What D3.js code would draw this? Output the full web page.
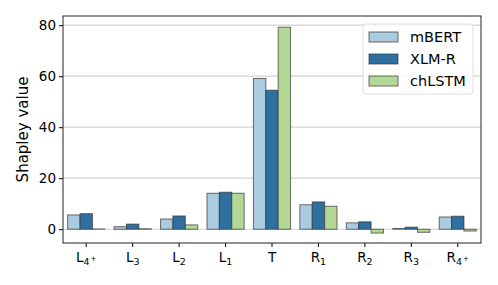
<!DOCTYPE html>
<html>
<head>
<meta charset="utf-8">
<script src="https://cdn.jsdelivr.net/npm/d3@7"></script>
<style>
  body { margin: 0; background: #fff; }
  text { font-family: "DejaVu Sans", sans-serif; fill: #000; }
</style>
</head>
<body>
<div id="chart"></div>
<script>

// categories: base letter, subscript, superscript
var categories = ["L4+", "L3", "L2", "L1", "T", "R1", "R2", "R3", "R4+"];
var catBase = ["L", "L", "L", "L", "T", "R", "R", "R", "R"];
var catSub = ["4", "3", "2", "1", "", "1", "2", "3", "4"];
var catSup = ["+", "", "", "", "", "", "", "", "+"];

var series = ["mBERT", "XLM-R", "chLSTM"];
var mbert = [5.6, 1.0, 4.0, 14.1, 59.1, 9.6, 2.5, 0.3, 4.8];
var xlmr = [6.1, 2.0, 5.2, 14.5, 54.5, 10.7, 2.9, 0.8, 5.1];
var chlstm = [0.1, 0.2, 1.7, 14.1, 79.2, 9.0, -1.5, -1.2, -0.7];
var yTicks = [0, 20, 40, 60, 80];

var colors = ["#abcbe0", "#2f70a1", "#b3d794"];

var width = 498, height = 285;
var margin = {top: 16, right: 17, bottom: 42, left: 63};
var w = width - margin.left - margin.right,
    h = height - margin.top - margin.bottom;

var svg = d3.select("#chart").append("svg")
    .attr("width", width)
    .attr("height", height)
  .append("g")
    .attr("transform", "translate(" + margin.left + "," + margin.top + ")");

var x = d3.scaleBand().domain(categories).range([0, w])
    .paddingInner(0.2).paddingOuter(0.1);
var xs = d3.scaleBand().domain(series).range([0, x.bandwidth()]);
var y = d3.scaleLinear().domain([-5.4, 83.6]).range([h, 0]);

// grid
svg.selectAll(".grid")
    .data(yTicks)
  .enter().append("line")
    .attr("x1", 0).attr("x2", w)
    .attr("y1", function(d) { return y(d); })
    .attr("y2", function(d) { return y(d); })
    .style("stroke", "#d3d3d3")
    .style("stroke-width", 1.2);

var rows = [];
categories.forEach(function(c, i) {
    rows.push({cat: c, s: "mBERT", v: mbert[i], k: 0});
    rows.push({cat: c, s: "XLM-R", v: xlmr[i], k: 1});
    rows.push({cat: c, s: "chLSTM", v: chlstm[i], k: 2});
});

svg.selectAll(".bar")
    .data(rows)
  .enter().append("rect")
    .attr("class", "bar")
    .attr("x", function(d) { return x(d.cat) + xs(d.s); })
    .attr("width", xs.bandwidth())
    .attr("y", function(d) { return y(Math.max(0, d.v)); })
    .attr("height", function(d) { return Math.abs(y(d.v) - y(0)); })
    .style("fill", function(d) { return colors[d.k]; })
    .style("stroke", "#333")
    .style("stroke-opacity", 0.7)
    .style("stroke-width", 1);

// axes
var yAxis = d3.axisLeft(y).tickValues(yTicks).tickSize(4).tickPadding(3);
var gy = svg.append("g").call(yAxis);
gy.select(".domain").remove();
gy.selectAll("text").style("font-size", "13.5px").style("font-family", "DejaVu Sans");
gy.selectAll("line").style("stroke", "#000");

var xAxis = d3.axisBottom(x).tickSize(4).tickFormat("");
var gx = svg.append("g").attr("transform", "translate(0," + h + ")").call(xAxis);
gx.select(".domain").remove();
gx.selectAll("line").style("stroke", "#000");

var lab = svg.selectAll(".xlab")
    .data(categories)
  .enter().append("text")
    .attr("class", "xlab")
    .attr("x", function(d) { return x(d) + x.bandwidth() / 2; })
    .attr("y", h + 19)
    .attr("text-anchor", "middle")
    .style("font-size", "13.5px");
lab.append("tspan").text(function(d, i) { return catBase[i]; });
lab.append("tspan")
    .attr("dy", 3)
    .style("font-size", "9.5px")
    .text(function(d, i) { return catSub[i]; });
lab.append("tspan")
    .attr("dx", 1).attr("dy", -4)
    .style("font-size", "7px")
    .text(function(d, i) { return catSup[i]; });

// frame
svg.append("rect")
    .attr("width", w).attr("height", h)
    .style("fill", "none")
    .style("stroke", "#222")
    .style("stroke-width", 1);

svg.append("text")
    .attr("transform", "translate(" + (23 - margin.left) + "," + (h / 2) + ") rotate(-90)")
    .attr("text-anchor", "middle")
    .attr("dy", "0.35em")
    .style("font-size", "15px")
    .text("Shapley value");

// legend
var lg = svg.append("g").attr("transform", "translate(" + (363 - margin.left) + "," + (24 - margin.top) + ")");
lg.append("rect")
    .attr("width", 110).attr("height", 70).attr("rx", 3)
    .style("fill", "#fff").style("fill-opacity", 0.8)
    .style("stroke", "#ddd");
series.forEach(function(s, i) {
    lg.append("rect")
        .attr("x", 6).attr("y", 8 + i * 22)
        .attr("width", 29).attr("height", 10)
        .style("fill", colors[i])
        .style("stroke", "#333").style("stroke-opacity", 0.7);
    lg.append("text")
        .attr("x", 47).attr("y", 13 + i * 22)
        .attr("dy", "0.35em")
        .style("font-size", "14.5px")
        .text(s);
});

</script>
</body>
</html>
